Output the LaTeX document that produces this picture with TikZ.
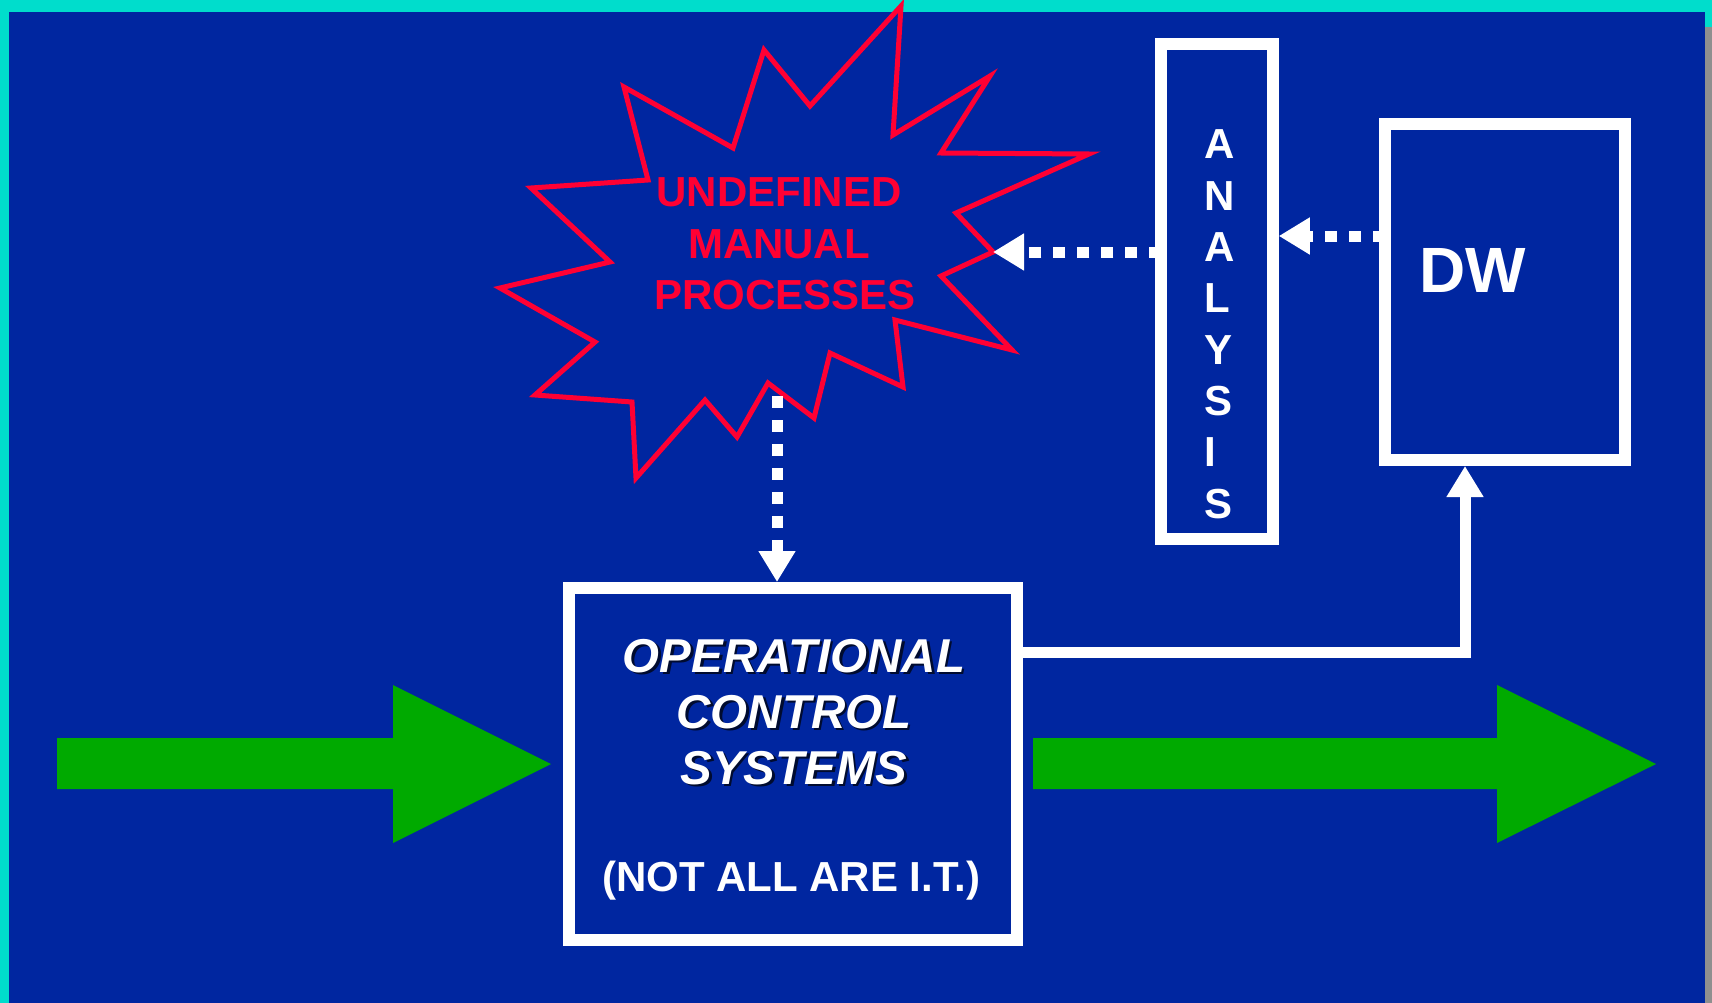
\documentclass[tikz,border=0pt]{standalone}
\usepackage{fontspec}
\setmainfont{Liberation Sans}
\usetikzlibrary{arrows.meta,calc}
\definecolor{bgteal}{RGB}{0,221,204}
\definecolor{bgblue}{RGB}{0,38,160}
\definecolor{bggray}{RGB}{143,143,143}
\definecolor{arrgreen}{RGB}{0,170,0}
\definecolor{burstred}{RGB}{255,0,51}
\newcommand\myfs[1]{\fontsize{#1}{#1}\selectfont}
\begin{document}
\begin{tikzpicture}[x=1pt,y=-1pt,
  wbox/.style={draw=white,rectangle,inner sep=0pt,line join=miter},
  dotline/.style={draw=white,line width=11pt,dash pattern=on 12pt off 12pt},
  solidline/.style={draw=white,line width=11pt,line join=miter},
  whead/.style={-{Triangle[width=35pt,length=31pt]}},
  redtxt/.style={text=burstred,anchor=base,inner sep=0pt,font=\myfs{42pt}\bfseries},
  lettr/.style={text=white,anchor=base west,inner sep=0pt,font=\myfs{42pt}\bfseries},
  ocstxt/.style={text=white,anchor=base,inner sep=0pt,font=\myfs{47.5pt}\bfseries\itshape},
  ocsshadow/.style={text=black,text opacity=0.7,anchor=base,inner sep=0pt,font=\myfs{47.5pt}\bfseries\itshape},
  greenarrow/.style={fill=arrgreen}
]
\useasboundingbox (0,0) rectangle (1712,1003);
% background
\fill[bgteal] (0,0) rectangle (1712,1003);
\fill[bgblue] (9,12) rectangle (1705,1003);
\fill[bggray] (1705,27) rectangle (1712,1003);

% starburst
\coordinate (bursttip) at (993,252);
\coordinate (burstbot) at (777,396);
\draw[burstred,line width=5pt,line join=miter,miter limit=40]
 (901,6) -- (893,135) -- (990,76) -- (941,153) -- (1089,154) -- (956,213) -- (bursttip)
 -- (941,276) -- (1012,350) -- (895,320) -- (903,387) -- (830,353) -- (814,418)
 -- (768,383) -- (737,437) -- (705,400) -- (636,478) -- (632,402) -- (535,395)
 -- (595,342) -- (500,288) -- (610,262) -- (531,188) -- (648,180) -- (624,87)
 -- (733,148) -- (764,50) -- (810,106) -- cycle;
\node[redtxt] (undef) at (779,207) {UNDEFINED};
\node[redtxt] (manual) at (779,258) {MANUAL};
\node[redtxt] (procs) at (785,309) {PROCESSES};

% boxes
\node[wbox,line width=11.5pt,minimum width=112pt,minimum height=495pt] (analysis) at (1217,291.5) {};
\node[wbox,line width=12pt,minimum width=240pt,minimum height=336pt] (dw) at (1505,292) {};
\node[wbox,line width=12pt,minimum width=448pt,minimum height=351.5pt] (ocs) at (793,763.75) {};

% ANALYSIS letters
\foreach \ch [count=\i from 0] in {A,N,A,L,Y,S,I,S}{
  \node[lettr] (an\i) at (1204,{159+51.3*\i}) {\ch};
}
% DW label
\node[text=white,anchor=base west,inner sep=0pt,font=\myfs{64pt}\bfseries] (dwlabel) at (1419,292) {DW};

% OCS text
\node[ocsshadow] (op-s) at (796.5,674.5) {OPERATIONAL};
\node[ocsshadow] (co-s) at (796.5,730.5) {CONTROL};
\node[ocsshadow] (sy-s) at (796.5,786.5) {SYSTEMS};
\node[ocstxt] (op) at (794,672) {OPERATIONAL};
\node[ocstxt] (co) at (794,728) {CONTROL};
\node[ocstxt] (sy) at (794,784) {SYSTEMS};
\node[text=white,anchor=base,inner sep=0pt,font=\myfs{42pt}\bfseries] (notall) at (791,891) {(NOT ALL ARE I.T.)};

% connectors
\coordinate (turn) at (1465,652);
\draw[dotline,whead,dash phase=6pt] ($(dw.west)+(0,-56)$) -- ($(analysis.east)+(0,-55.5)$);
\draw[dotline,whead,dash phase=6pt] ($(analysis.west)+(0,-39.5)$) -- (bursttip);
\draw[dotline,whead] (burstbot) -- (burstbot |- ocs.north);
\draw[solidline,whead] (ocs.east |- turn) -- (turn) -- (turn |- dw.south);

% green arrows
\fill[greenarrow] (57,738) -- (393,738) -- (393,685) -- (551,764) -- (393,843) -- (393,789) -- (57,789) -- cycle;
\fill[greenarrow] (1033,738) -- (1497,738) -- (1497,685) -- (1656,764) -- (1497,843) -- (1497,789) -- (1033,789) -- cycle;
\end{tikzpicture}
\end{document}
